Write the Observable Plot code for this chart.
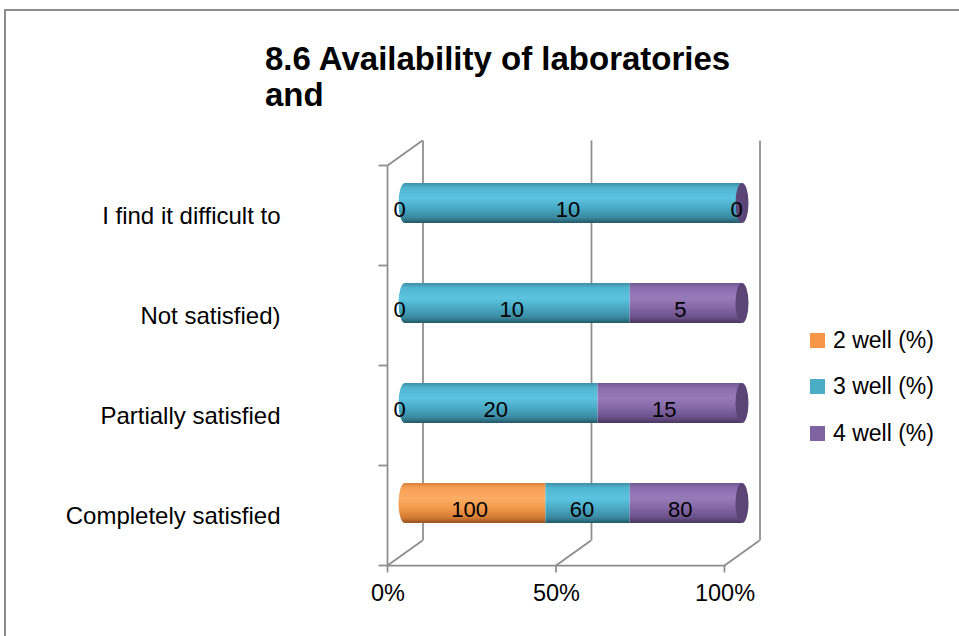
<!DOCTYPE html>
<html>
<head>
<meta charset="utf-8">
<script src="https://cdn.jsdelivr.net/npm/d3@7"></script>
<script src="https://cdn.jsdelivr.net/npm/@observablehq/plot@0.6"></script>
<style>
  html, body { margin: 0; padding: 0; background: #fff; }
  #wrap { position: relative; width: 959px; height: 636px; overflow: hidden; font-family: "Liberation Sans", Arial, sans-serif; color: #000; }
  #border { position: absolute; left: 4px; top: 9px; width: 1000px; height: 700px; border-left: 2px solid #8c8c8c; border-top: 2px solid #8c8c8c; }
  #chart { position: absolute; left: 0; top: 0; }
  #title { position: absolute; left: 265px; top: 41px; font-weight: bold; font-size: 33px; line-height: 36px; white-space: nowrap; }
  .lg { position: absolute; left: 810px; height: 30px; display: flex; align-items: center; font-size: 23px; white-space: nowrap; }
  .lg span.sw { display: inline-block; width: 15px; height: 15px; margin-right: 8px; }
</style>
</head>
<body>
<svg width="0" height="0" style="position:absolute">
  <defs>
    <linearGradient id="gOrange" x1="0" y1="0" x2="0" y2="1">
      <stop offset="0" stop-color="#d9803a"/>
      <stop offset="0.12" stop-color="#f6a056"/>
      <stop offset="0.38" stop-color="#fbad63"/>
      <stop offset="0.62" stop-color="#f39a4b"/>
      <stop offset="0.86" stop-color="#d47b34"/>
      <stop offset="1" stop-color="#98531f"/>
    </linearGradient>
    <linearGradient id="gBlue" x1="0" y1="0" x2="0" y2="1">
      <stop offset="0" stop-color="#3d8fa7"/>
      <stop offset="0.12" stop-color="#50b5d0"/>
      <stop offset="0.38" stop-color="#5cc4e0"/>
      <stop offset="0.62" stop-color="#4aaac5"/>
      <stop offset="0.86" stop-color="#3a8aa1"/>
      <stop offset="1" stop-color="#245868"/>
    </linearGradient>
    <linearGradient id="gPurple" x1="0" y1="0" x2="0" y2="1">
      <stop offset="0" stop-color="#705a91"/>
      <stop offset="0.12" stop-color="#8a6cad"/>
      <stop offset="0.38" stop-color="#977bb8"/>
      <stop offset="0.62" stop-color="#8468a7"/>
      <stop offset="0.86" stop-color="#6a5189"/>
      <stop offset="1" stop-color="#48375e"/>
    </linearGradient>
  </defs>
</svg>
<div id="wrap">
  <div id="border"></div>
  <div id="chart"></div>
  <div id="title">8.6 Availability of laboratories<br>and</div>
  <div id="legend"></div>
</div>
<script>
// ---- data ----
const categories = ["I find it difficult to", "Not satisfied)", "Partially satisfied", "Completely satisfied"];
const seriesNames = ["2 well (%)", "3 well (%)", "4 well (%)"];
const well2 = [0, 0, 0, 100];
const well3 = [10, 10, 20, 60];
const well4 = [0, 5, 15, 80];
const seriesColors = ["#F79646", "#4BACC6", "#8064A2"];
const seriesGradients = ["url(#gOrange)", "url(#gBlue)", "url(#gPurple)"];
const endFaceColor = "#5a4576";
const xTicks = [0, 0.5, 1];

const seriesValues = [well2, well3, well4];
const table = seriesNames.flatMap((s, si) =>
  categories.map((c, ci) => ({category: c, series: s, value: seriesValues[si][ci]})));
// rounded left end of each cylinder takes the colour of its first non-empty segment
const leftCaps = categories.map((c, ci) => ({
  category: c,
  series: seriesNames.find((s, si) => seriesValues[si][ci] > 0)
}));

const gridColor = "#8c8c8c";
const DX = 17.5, DY = 12.5; // 3D depth offsets (front/back planes)
const capR = 6.5;

function frame3d(index, scales, values, dim) {
  const x = scales.x;
  const top = dim.marginTop, bot = dim.height - dim.marginBottom;
  const n = categories.length, bw = (bot - top) / n;
  const g = d3.create("svg:g").attr("stroke", gridColor).attr("stroke-width", 1.75).attr("fill", "none");
  const line = (x1, y1, x2, y2) => g.append("line").attr("x1", x1).attr("y1", y1).attr("x2", x2).attr("y2", y2);
  const fx0 = x(0) - DX, fyt = top + DY, fyb = bot + DY;
  line(fx0, fyt, fx0, fyb);
  line(fx0, fyb, x(1) - DX + 1, fyb);
  for (let i = 0; i <= n; i++) line(fx0 - 9, fyt + i * bw, fx0, fyt + i * bw);
  for (const t of xTicks) {
    line(x(t) - DX, fyb, x(t) - DX, fyb + 7);
    line(x(t) - DX, fyb, x(t) + DX, bot - DY);
  }
  line(fx0, fyt, x(0) + DX, top - DY);
  return g.node();
}

const stackOpts = {y: "category", x: "value", z: "series", order: seriesNames, offset: "normalize"};
const barV = {insetTop: 30, insetBottom: 30};

const chart = Plot.plot({
  width: 959,
  height: 636,
  marginLeft: 405,
  marginRight: 217,
  marginTop: 153,
  marginBottom: 83,
  style: {fontFamily: "Liberation Sans, Arial, sans-serif", fontSize: "24px", background: "transparent", overflow: "visible"},
  x: {domain: [0, 1], axis: null},
  y: {domain: categories, padding: 0, label: null},
  color: {domain: seriesNames, range: seriesGradients},
  marks: [
    Plot.ruleX(xTicks, {x: d => d, dx: DX, dy: -DY, stroke: gridColor, strokeWidth: 1.75}),
    frame3d,
    Plot.barX(leftCaps, {
      y: "category", x1: () => 0, x2: () => 0, ...barV,
      insetLeft: -capR, insetRight: -capR, rx: capR, ry: 20,
      fill: "series"
    }),
    Plot.barX(table, Plot.stackX({
      ...stackOpts, ...barV,
      filter: d => d.value > 0,
      fill: "series"
    })),
    Plot.barX(categories, {
      y: d => d, x1: () => 1, x2: () => 1, ...barV,
      insetLeft: -capR, insetRight: -capR, rx: capR, ry: 20,
      fill: endFaceColor
    }),
    Plot.text(table, Plot.stackX({
      ...stackOpts,
      text: d => String(d.value),
      dx: -6, dy: 6,
      fontSize: 22,
      fill: "#000"
    })),
    Plot.text(xTicks, {
      x: d => d,
      frameAnchor: "bottom",
      dx: -DX, dy: 47,
      text: d => d3.format(".0%")(d),
      fontSize: 23.5,
      fill: "#000"
    }),
    Plot.axisY({tickSize: 0, tickPadding: 125, dy: DY, fontSize: 24, fill: "#000", label: null})
  ]
});
document.getElementById("chart").appendChild(chart);

// legend
const legend = document.getElementById("legend");
const legendCenters = [340, 386.5, 433];
seriesNames.forEach((s, i) => {
  const row = document.createElement("div");
  row.className = "lg";
  row.style.top = (legendCenters[i] - 15) + "px";
  const sw = document.createElement("span");
  sw.className = "sw";
  sw.style.background = seriesColors[i];
  row.appendChild(sw);
  row.appendChild(document.createTextNode(s));
  legend.appendChild(row);
});
</script>
</body>
</html>
